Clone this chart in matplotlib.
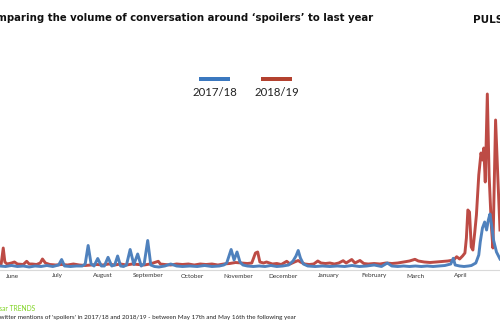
import matplotlib
matplotlib.use("Agg")
import matplotlib.pyplot as plt
import matplotlib.transforms as mtransforms

# ---- data (day index counted from May 17th, value = relative mention volume) ----
months = ["June", "July", "August", "September", "October", "November",
          "December", "January", "February", "March", "April", "May"]
month_days = [15, 45, 76, 107, 137, 168, 198, 229, 260, 288, 319, 349]

days_1718 = [6, 10, 14, 18, 22, 26, 30, 34, 38, 42, 46, 48, 50, 54, 58, 62, 64, 66, 68, 70,
             72.5, 75, 77, 79.5, 82, 84, 86, 88, 90, 92, 94.5, 97, 99.6, 102, 104, 106.4,
             108.5, 111, 114, 118, 122, 126, 130, 135, 140, 145, 150, 155, 158, 160, 163,
             165, 167, 169, 171, 174, 178, 182, 186, 190, 194, 198, 202, 205, 207, 208.5,
             210, 212, 215, 220, 225, 230, 235, 240, 245, 250, 255, 260, 265, 269, 272, 276,
             280, 284, 288, 292, 296, 300, 304, 308, 312, 313.7, 315, 318, 321, 324, 326,
             329, 331, 332, 333.5, 335, 336.3, 337.5, 338.6, 340, 341, 343, 345.4]
vals_1718 = [4, 3.5, 4.5, 3.5, 4, 3, 4, 3.5, 4.5, 3.5, 5, 10.5, 4, 3.5, 4, 4, 6, 24.5, 6, 4,
             11.5, 4, 4, 12.7, 4, 5, 14, 4, 3.5, 5, 20.5, 5.5, 16, 4, 6, 29.5,
             5, 3.5, 3, 4, 6, 4, 3.5, 4, 3.5, 4.5, 3.5, 4, 5, 7, 20.5,
             10, 18, 8, 5, 4, 3.5, 4, 3.5, 4.5, 3.5, 4, 5, 9, 14, 19.5,
             12, 6, 4, 3.5, 4, 3.5, 4, 3.5, 4.5, 3.5, 4, 5, 3.5, 7, 4, 3.5,
             4, 3.5, 4, 3.5, 4, 3.5, 4, 4.5, 6, 11.7, 5, 4, 3.5, 4, 4.5,
             7, 15, 28, 42, 48, 40, 50, 56, 42, 30, 18, 11]

days_1819 = [6, 7, 8.4, 9.5, 11, 14, 16, 18, 22, 24.3, 26, 28, 31, 33.5, 35, 37, 40, 44, 48,
             52, 56, 60, 64, 68, 72, 76, 80, 84, 88, 92, 96, 100, 104, 108, 113.6, 115, 118,
             122, 126, 130, 134, 138, 142, 146, 150, 154, 158, 162, 166, 170, 174, 177,
             179.5, 181, 182.5, 185, 187, 191, 194, 197, 200.7, 203, 206, 208.5, 210, 213,
             216, 219, 221.8, 224, 227, 230, 233, 236, 239, 241, 244.8, 247, 250.4, 253,
             256, 260, 264, 268, 272, 276, 280, 284, 287.7, 290, 294, 298, 302, 306, 310,
             314, 316, 318, 320, 321.6, 322.6, 323.6, 324.7, 325.9, 327, 328.3, 329.4, 331,
             332.5, 333.5, 334.4, 335.4, 336.8, 338, 339.5, 340.6, 342.4, 344, 345.4]
vals_1819 = [6, 6, 22, 8, 6, 7, 8, 6, 5.5, 8.7, 6, 6, 5.5, 7, 11, 7, 5.5, 5, 5.5,
             5, 6, 5, 4.5, 5, 5.5, 5, 6, 5, 6, 5, 6, 5.5, 5, 6, 8.7, 6, 5.5,
             5, 6, 5.5, 6, 5, 6, 5.5, 6, 5, 6, 6.5, 7.5, 7, 6.5, 7,
             17, 18, 8, 7, 8, 6, 6.5, 5.5, 8.7, 6, 8, 9.5, 8, 6,
             5.5, 6, 9, 7, 6.5, 7, 6, 7, 9.3, 7, 10.5, 7, 9.5, 6.5,
             6, 6.5, 6, 7, 6.5, 7, 8, 9, 10.7, 9, 8, 7.5, 8, 8.5, 9,
             10, 13.3, 11, 14, 17, 32, 60, 58, 23, 20, 38, 55, 95,
             117, 110, 122, 88, 176, 95, 45, 22, 150, 90, 40]

series_labels = ["2017/18", "2018/19"]

# ---- styling ----
blue_line = "#4f81bd"
red_line = "#bd4b45"
blue_key = "#3b78bf"
red_key = "#b3412f"
W, H = 500, 330

fig = plt.figure(figsize=(5.0, 3.3), dpi=100)
fig.patch.set_facecolor("white")

ax = fig.add_axes([0, (H - 270) / H, 1, 190 / H])
ax.plot(days_1819, vals_1819, color=red_line, lw=2.1, solid_joinstyle="round", zorder=2)
ax.plot(days_1718, vals_1718, color=blue_line, lw=2.1, solid_joinstyle="round", zorder=3)
ax.set_xlim(6.2, 345.4)
ax.set_ylim(0, 190)
ax.set_xticks([])
ax.set_yticks([])
for s in ["top", "left", "right"]:
    ax.spines[s].set_visible(False)
ax.spines["bottom"].set_color("#d9d9d9")
ax.spines["bottom"].set_linewidth(0.8)

trans = mtransforms.blended_transform_factory(ax.transData, fig.transFigure)
for m, d in zip(months, month_days):
    ax.text(d, 1 - 276 / H, m, transform=trans, ha="center", va="center",
            fontsize=4.6, color="#333333", family="Lato", clip_on=False)

# title (cropped on the left in the reference)
fig.text(373 / W, 1 - 18 / H,
         "Comparing the volume of conversation around \u2018spoilers\u2019 to last year",
         ha="right", va="center", fontsize=7.3, fontweight="bold", color="#111111",
         family="DejaVu Sans")
fig.text(473 / W, 1 - 20 / H, "PULSAR", ha="left", va="center", fontsize=7.5,
         fontweight="bold", color="#111111", family="DejaVu Sans")

# legend
for x0, col, lab in [(199, blue_key, series_labels[0]), (261, red_key, series_labels[1])]:
    fig.add_artist(plt.Rectangle((x0 / W, 1 - 81.3 / H), 31 / W, 4 / H,
                                 transform=fig.transFigure, color=col, lw=0))
    fig.text((x0 + 15.5) / W, 1 - 92 / H, lab, ha="center", va="center",
             fontsize=8.2, color="#222222", family="Lato")

# footer
fig.text(35 / W, 1 - 308.5 / H, "Pulsar TRENDS", ha="right", va="center",
         fontsize=4.8, color="#7ed321", family="Lato")
fig.text(296 / W, 1 - 317 / H,
         "Twitter mentions of 'spoilers' in 2017/18 and 2018/19 - between May 17th and May 16th the following year",
         ha="right", va="center", fontsize=4.5, color="#222222", family="Lato")

fig.savefig("out.png", dpi=100, facecolor="white")
